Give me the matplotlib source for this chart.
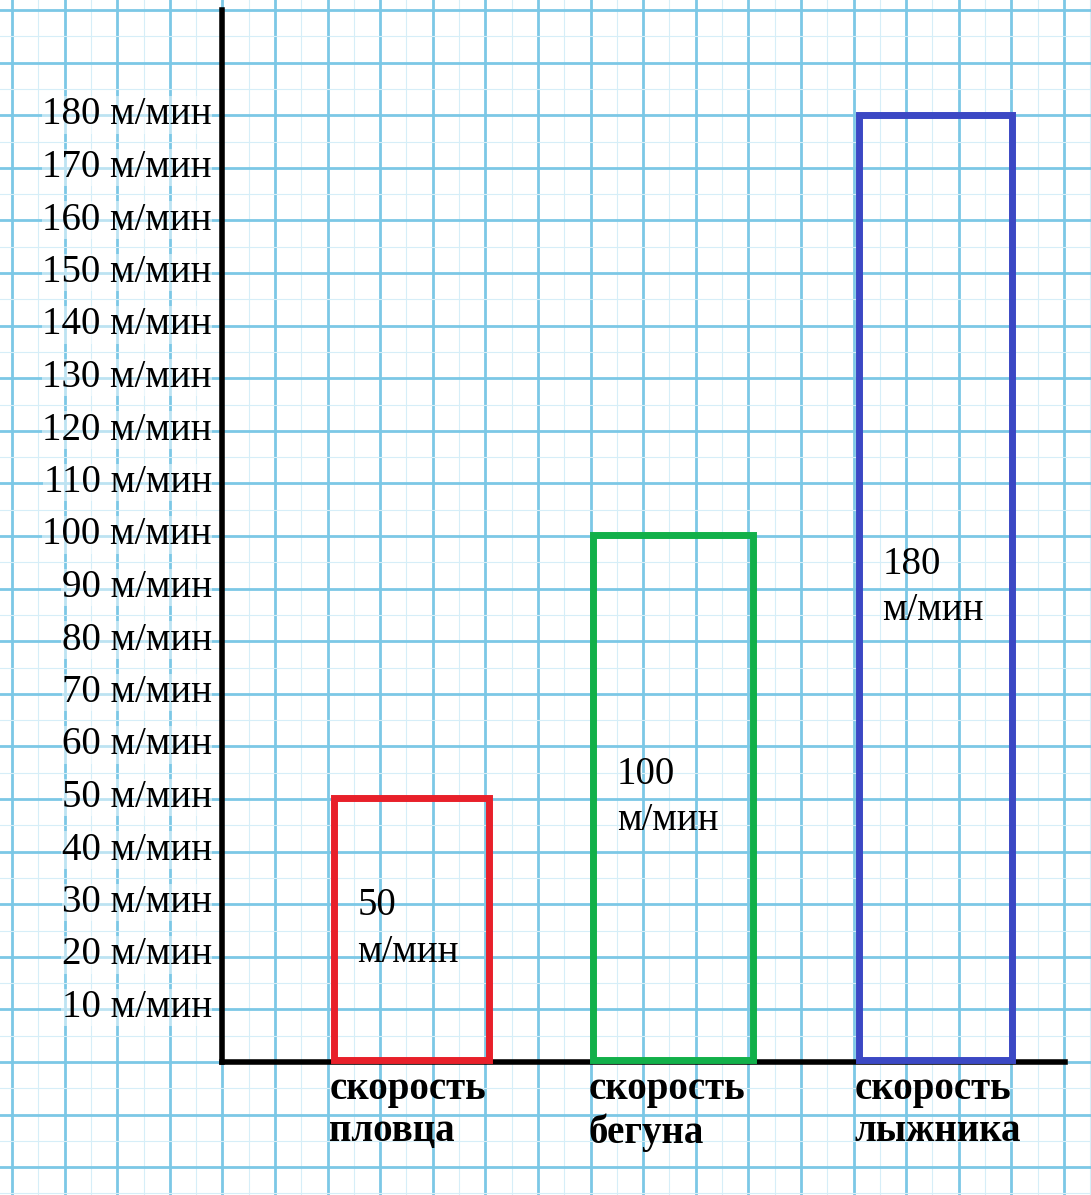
import matplotlib
matplotlib.use("Agg")
import matplotlib.pyplot as plt
import numpy as np

categories = ["скорость\nпловца", "скорость\nбегуна", "скорость\nлыжника"]
values = [50, 100, 180]
colors = ["#e8202a", "#12b04a", "#3b48c4"]
tick_values = [10, 20, 30, 40, 50, 60, 70, 80, 90, 100, 110, 120, 130, 140, 150, 160, 170, 180]
tick_labels = [f"{v} м/мин" for v in tick_values]

W, H = 1091, 1195
fig = plt.figure(figsize=(W/100, H/100), dpi=100)
ax = fig.add_axes([0, 0, 1, 1])
ppu = 5.25  # pixels per unit
y0 = 1060
ax.set_xlim(0, W)
ax.set_ylim(-(H - y0)/ppu, y0/ppu)
ax.axis("off")

serif = ["Liberation Serif", "DejaVu Serif"]
# grid paper
step = 26.3
for i, x in enumerate(np.arange(12, W, step)):
    if i % 2 == 0:
        ax.axvline(x, color="#7cc8e6", lw=2.0, zorder=0)
    else:
        ax.axvline(x, color="#d6eef8", lw=0.8, zorder=0)
for i, yp in enumerate(np.arange(1062, -10, -step)):
    if i % 2 == 0:
        ax.axhline((y0 - yp)/ppu, color="#7cc8e6", lw=2.0, zorder=0)
    else:
        ax.axhline((y0 - yp)/ppu, color="#d6eef8", lw=0.8, zorder=0)
for i, yp in enumerate(np.arange(1062 + step, H, step)):
    ax.axhline((y0 - yp)/ppu, color="#7cc8e6" if i % 2 else "#d6eef8",
               lw=2.0 if i % 2 else 0.8, zorder=0)

# axes
ax.plot([222, 222], [(y0-1062)/ppu, (y0-10)/ppu], color="black", lw=4, zorder=3)
ax.plot([222, 1065], [(y0-1062)/ppu]*2, color="black", lw=4, zorder=3)

centers = [411, 673, 935]
widths = [155, 160, 153]
for c, w, v, col, cat in zip(centers, widths, values, colors, categories):
    ax.bar(c, v, width=w, bottom=0, fill=False, edgecolor=col, linewidth=5, zorder=4)
    ax.text(c - w/2 + 24, v/2 + 8, f"{v}\nм/мин", family=serif, fontsize=28,
            ha="left", va="top", linespacing=1.35, zorder=5)
    ax.text(c - w/2 - 4, -2, cat, family=serif, fontsize=28, fontweight="bold",
            ha="left", va="top", linespacing=1.2, zorder=5)

for v, lab in zip(tick_values, tick_labels):
    ax.text(212, v, lab, family=serif, fontsize=28, ha="right", va="center",
            zorder=5, bbox=dict(facecolor="white", edgecolor="none", pad=0.3, alpha=0.5))

fig.savefig("out.png", dpi=100, facecolor="white")
